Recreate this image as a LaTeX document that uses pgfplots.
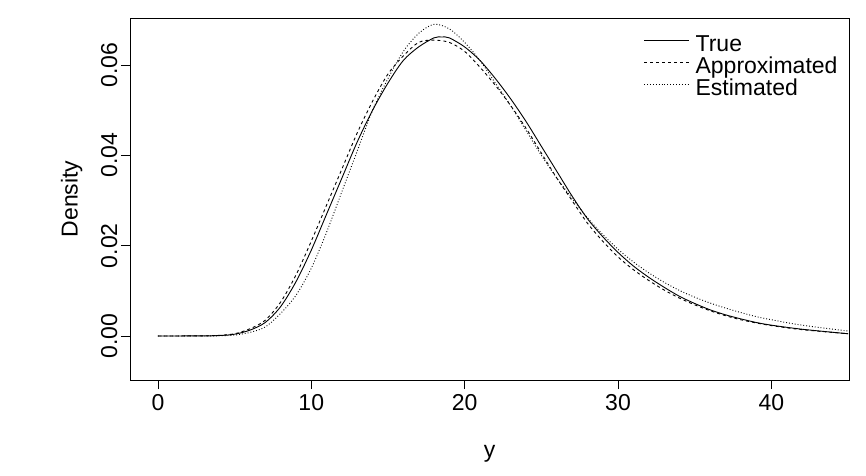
\documentclass[border=0pt]{standalone}
\usepackage{pgfplots}
\pgfplotsset{compat=1.18}
\usepackage{fontspec}
\setmainfont{Liberation Sans}
\begin{document}
\begin{tikzpicture}
\begin{axis}[scale only axis, width=719pt, height=362pt,
 xmin=-1.82, xmax=45.06, ymin=-0.00974, ymax=0.0704,
 scaled ticks=false,
 axis line style={line width=0.6pt},
 xtick={0,10,20,30,40}, ytick={0,0.02,0.04,0.06},
 yticklabels={0.00,0.02,0.04,0.06},
 tick align=outside, tick pos=left, major tick length=9pt,
 tick style={black,line width=0.6pt},
 /pgf/number format/assume math mode=true,
 ticklabel style={font=\fontsize{23}{25}\selectfont},
 yticklabel style={rotate=90, anchor=south},
 xticklabel style={yshift=-2pt},
 label style={font=\fontsize{23}{25}\selectfont},
 xlabel={y}, ylabel={Density},
 xlabel style={yshift=-28pt}, ylabel style={yshift=12pt},
 legend style={draw=none, fill=none, at={(0.71,0.95)}, anchor=north west,
   font=\fontsize{23}{25}\selectfont, row sep=5pt,
   nodes={inner ysep=0pt, inner xsep=6pt, text height=13pt, text depth=4pt}},
 legend cell align=left,
 legend image code/.code={\draw[#1] (0pt,6pt) -- (45pt,6pt);},
]
\addplot[black, line width=0.9pt, smooth] coordinates {
(0,0)(3,0.00003)(4,0.0001)(5,0.0004)(6,0.0013)(7,0.003)(8,0.0065)(9,0.012)(10,0.019)(11,0.027)(12,0.035)(13,0.043)(14,0.050)(15,0.056)(16,0.061)(17,0.064)(18,0.066)(18.5,0.0662)(19,0.066)(20,0.064)(21,0.061)(22,0.057)(23,0.0525)(24,0.0475)(25,0.042)(26,0.0365)(27,0.031)(28,0.026)(29,0.022)(30,0.0185)(31,0.0155)(32,0.013)(33,0.0108)(34,0.0088)(35,0.0072)(36,0.0058)(37,0.0047)(38,0.0038)(39,0.003)(40,0.0024)(42,0.0015)(45,0.0005)};
\addlegendentry{True}
\addplot[black, line width=0.9pt, dashed, smooth] coordinates {
(0,0)(3,0.00004)(4,0.00015)(5,0.0005)(6,0.0016)(7,0.0035)(8,0.0075)(9,0.0135)(10,0.021)(11,0.029)(12,0.037)(13,0.045)(14,0.052)(15,0.058)(16,0.062)(17,0.065)(18,0.0655)(19,0.065)(20,0.063)(21,0.0595)(22,0.0555)(23,0.051)(24,0.046)(25,0.0405)(26,0.035)(27,0.030)(28,0.025)(29,0.021)(30,0.0175)(31,0.0147)(32,0.0123)(33,0.0102)(34,0.0084)(35,0.0069)(36,0.0056)(37,0.0045)(38,0.0036)(39,0.0029)(40,0.0023)(42,0.0014)(45,0.0005)};
\addlegendentry{Approximated}
\addplot[black, line width=0.9pt, dotted, smooth] coordinates {
(0,0)(3,0.00001)(4,0.00005)(5,0.0002)(6,0.0008)(7,0.002)(8,0.005)(9,0.009)(10,0.015)(11,0.023)(12,0.032)(13,0.041)(14,0.050)(15,0.057)(16,0.063)(17,0.067)(18,0.069)(19,0.068)(20,0.065)(21,0.061)(22,0.056)(23,0.051)(24,0.0455)(25,0.040)(26,0.035)(27,0.0305)(28,0.0262)(29,0.0225)(30,0.0192)(31,0.0164)(32,0.014)(33,0.0119)(34,0.0101)(35,0.0086)(36,0.0073)(37,0.0062)(38,0.0052)(39,0.0043)(40,0.0036)(42,0.0024)(45,0.0011)};
\addlegendentry{Estimated}
\end{axis}
\useasboundingbox (current axis.south west) ++(-130pt,-95pt) rectangle ++(866pt,475pt);
\end{tikzpicture}
\end{document}
